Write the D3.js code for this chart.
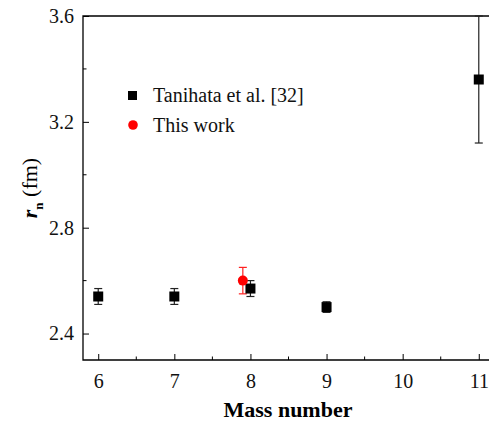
<!DOCTYPE html>
<html>
<head>
<meta charset="utf-8">
<style>
    body { margin: 0; background: #fff; }
    svg { display: block; font-family: "Liberation Serif", "Times New Roman", serif; }
    .axis .domain { display: none; }
    .axis text { font-family: "Liberation Serif", serif; font-size: 20px; fill: #111; }
    .axis line { stroke: #000; }
</style>
</head>
<body>
<svg width="489" height="422"></svg>
<script src="https://d3js.org/d3.v7.min.js"></script>
<script>
// Tanihata et al. [32]
let massNumbers = [6, 7, 8, 9, 11];
let radii = [2.54, 2.54, 2.57, 2.50, 3.36];
let radiiErr = [0.03, 0.03, 0.03, 0.02, 0.24];

// This work
let workMass = [7.9];
let workRadius = [2.60];
let workErr = [0.05];

let xTicks = [6, 7, 8, 9, 10, 11];
let yTicks = [2.4, 2.8, 3.2, 3.6];

let svg = d3.select("svg");
let margin = { top: 16, right: -5, bottom: 62, left: 83 };
let width = 489, height = 422;

let x = d3.scaleLinear().domain([5.8, 11.2]).range([margin.left, width - margin.right]);
let y = d3.scaleLinear().domain([2.3, 3.6]).range([height - margin.bottom, margin.top]);

// minor ticks
let xMinor = d3.range(6.5, 11, 1);
let yMinor = [2.6, 3.0, 3.4];

let gx = svg.append("g").attr("class", "x axis")
    .attr("transform", `translate(0,${y(2.3)})`)
    .call(d3.axisBottom(x).tickValues(xTicks).tickSize(-6).tickPadding(14).tickFormat(d3.format("d")));
gx.attr("font-family", null).attr("font-size", null);
gx.selectAll("g.minor").data(xMinor).join("line")
    .attr("x1", d => x(d)).attr("x2", d => x(d)).attr("y1", 0).attr("y2", -3.5)
    .attr("stroke", "#000");

let gy = svg.append("g").attr("class", "y axis")
    .attr("transform", `translate(${margin.left},0)`)
    .call(d3.axisLeft(y).tickValues(yTicks).tickSize(-6).tickPadding(9).tickFormat(d3.format(".1f")));
gy.attr("font-family", null).attr("font-size", null);
gy.selectAll("g.minor").data(yMinor).join("line")
    .attr("x1", 0).attr("x2", 3.5).attr("y1", d => y(d)).attr("y2", d => y(d))
    .attr("stroke", "#000");

// frame: left, bottom, top
svg.append("path")
    .attr("d", `M${width},${y(3.6)}H${margin.left}V${y(2.3)}H${width}`)
    .attr("fill", "none").attr("stroke", "#000").attr("stroke-width", 1.3);

// error bars
function errBars(xs, ys, es, color) {
    let g = svg.append("g").attr("stroke", color).attr("stroke-width", 1.2);
    xs.forEach((m, i) => {
        let top = Math.min(ys[i] + es[i], 3.6);
        let bot = ys[i] - es[i];
        g.append("line").attr("x1", x(m)).attr("x2", x(m)).attr("y1", y(top)).attr("y2", y(bot));
        g.append("line").attr("x1", x(m) - 4).attr("x2", x(m) + 4).attr("y1", y(top)).attr("y2", y(top));
        g.append("line").attr("x1", x(m) - 4).attr("x2", x(m) + 4).attr("y1", y(bot)).attr("y2", y(bot));
    });
}
errBars(massNumbers, radii, radiiErr, "#222");
errBars(workMass, workRadius, workErr, "#ff2020");

svg.append("g").selectAll("rect").data(massNumbers).join("rect")
    .attr("x", d => x(d) - 5).attr("y", (d, i) => y(radii[i]) - 5)
    .attr("width", 10).attr("height", 10).attr("fill", "#000");

svg.append("g").selectAll("circle").data(workMass).join("circle")
    .attr("cx", d => x(d)).attr("cy", (d, i) => y(workRadius[i]))
    .attr("r", 5).attr("fill", "#ff0000");

// legend
svg.append("rect").attr("x", 128).attr("y", 91).attr("width", 9).attr("height", 9).attr("fill", "#000");
svg.append("text").attr("x", 153).attr("y", 102).attr("font-size", 20).attr("fill", "#111").text("Tanihata et al. [32]");
svg.append("circle").attr("cx", 133).attr("cy", 125).attr("r", 4.8).attr("fill", "#ff0000");
svg.append("text").attr("x", 153).attr("y", 132).attr("font-size", 20).attr("fill", "#111").text("This work");

// axis titles
svg.append("text").attr("x", 288).attr("y", 417).attr("text-anchor", "middle")
    .attr("font-size", 22).attr("font-weight", "bold").text("Mass number");

let yt = svg.append("text")
    .attr("transform", `translate(37,${y(2.95)}) rotate(-90)`)
    .attr("text-anchor", "middle").attr("font-size", 22);
yt.append("tspan").attr("font-weight", "bold").attr("font-style", "italic").text("r");
yt.append("tspan").attr("font-weight", "bold").attr("font-size", 13).attr("dy", 6).text("n");
yt.append("tspan").attr("dy", -6).text(" (fm)");
</script>
</body>
</html>
